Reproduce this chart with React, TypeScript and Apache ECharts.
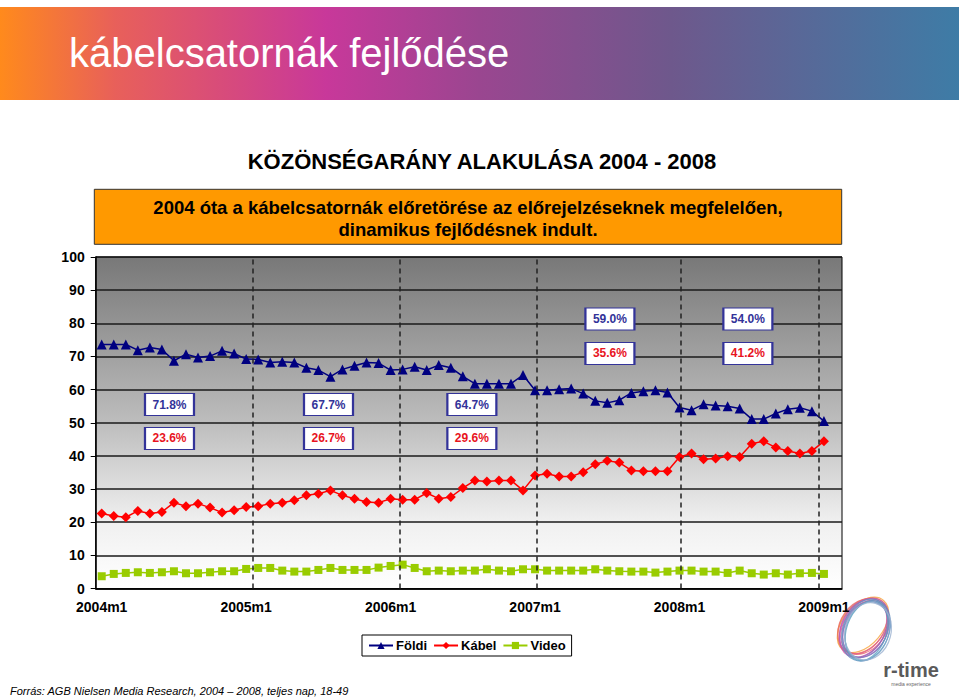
import React, { useEffect, useRef } from "react";
import * as echarts from "echarts";

const YEARS = ["2004", "2005", "2006", "2007", "2008", "2009"];
const MONTHS = [1, 2, 3, 4, 5, 6, 7, 8, 9, 10, 11, 12];
const CATEGORIES = YEARS.flatMap((y) => MONTHS.map((m) => `${y}m${m}`)).slice(0, 62);

const FOLDI = [
  73.6, 73.6, 73.6, 71.9, 72.7, 72.1, 68.7, 70.7, 69.7, 70.1, 71.7, 70.9,
  69.2, 69.1, 68.2, 68.4, 68.2, 66.6, 65.9, 63.9, 66.1, 67.2, 68.2, 68.0,
  65.9, 66.1, 66.9, 65.9, 67.4, 66.6, 64.0, 61.8, 61.8, 61.8, 61.8, 64.4,
  59.8, 59.8, 60.1, 60.3, 58.8, 56.6, 56.0, 56.8, 59.0, 59.5, 59.8, 59.1,
  54.6, 53.8, 55.6, 55.2, 55.0, 54.3, 51.1, 51.1, 52.8, 54.1, 54.5, 53.5,
  50.5,
];
const KABEL = [
  22.6, 21.9, 21.5, 23.4, 22.6, 23.1, 25.9, 24.8, 25.6, 24.4, 22.9, 23.6,
  24.6, 24.8, 25.6, 25.9, 26.6, 28.1, 28.6, 29.6, 28.1, 27.1, 26.1, 25.9,
  27.1, 26.8, 26.8, 28.8, 27.1, 27.6, 30.3, 32.6, 32.3, 32.6, 32.6, 29.6,
  34.1, 34.6, 33.8, 33.8, 35.1, 37.5, 38.5, 38.0, 35.6, 35.4, 35.4, 35.4,
  39.7, 40.7, 39.0, 39.2, 39.9, 39.7, 43.7, 44.4, 42.5, 41.5, 40.7, 41.5,
  44.4,
];
const VIDEO = [
  3.7, 4.4, 4.7, 4.9, 4.7, 4.9, 5.2, 4.6, 4.6, 4.9, 5.2, 5.2,
  5.9, 6.2, 6.2, 5.4, 5.1, 5.1, 5.6, 6.2, 5.6, 5.6, 5.6, 6.3,
  6.8, 7.2, 6.2, 5.2, 5.4, 5.2, 5.4, 5.4, 5.8, 5.4, 5.2, 5.8,
  5.8, 5.4, 5.4, 5.4, 5.4, 5.8, 5.4, 5.2, 5.1, 5.1, 4.8, 5.1,
  5.4, 5.4, 5.1, 5.1, 4.7, 5.4, 4.6, 4.2, 4.6, 4.2, 4.6, 4.7,
  4.4,
];

// yearly averages shown in boxes
const FOLDI_AVG = ["71.8%", "67.7%", "64.7%", "59.0%", "54.0%"];
const KABEL_AVG = ["23.6%", "26.7%", "29.6%", "35.6%", "41.2%"];
const AVG_X = [6.13, 19.34, 31.25, 42.72, 54.18];
const FOLDI_AVG_Y = [55.5, 55.5, 55.5, 81.3, 81.3];
const KABEL_AVG_Y = [45.25, 45.25, 45.25, 70.9, 70.9];
const DIVIDERS = [13.07, 25.28, 36.65, 48.61, 60.07];

const NAVY = "#000080";
const RED = "#ff0000";
const GREEN = "#99cc00";
const FONT = "Arial, 'Liberation Sans', sans-serif";

function logoElements() {
  const colors = [
    "#f6a33c", "#f08a4a", "#e96a6a", "#e0588e", "#cf55a8", "#b45cb4",
    "#9468b8", "#7a7cc0", "#6290c0", "#5aa0c0", "#74a8c8", "#9ab0d0",
  ];
  return colors.map((c, i) => ({
    type: "ellipse",
    x: 865,
    y: 629,
    rotation: -0.7 + i * 0.04,
    shape: { cx: (i - 6) * 0.7, cy: (i - 6) * 0.3, rx: 20 + (i % 3) * 1.5, ry: 32 - (i % 4) },
    style: { fill: "none", stroke: c, lineWidth: 1.2, opacity: 0.8 },
    silent: true,
  }));
}

export default function App() {
  const ref = useRef<HTMLDivElement>(null);
  useEffect(() => {
    if (!ref.current) return;
    const chart = echarts.init(ref.current, undefined, { renderer: "svg" });
    const markData = [
      ...FOLDI_AVG.map((t, i) => ({
        name: t,
        coord: [AVG_X[i], FOLDI_AVG_Y[i]],
        label: { color: "#333399" },
      })),
      ...KABEL_AVG.map((t, i) => ({
        name: t,
        coord: [AVG_X[i], KABEL_AVG_Y[i]],
        label: { color: "#e8141e" },
      })),
    ];
    chart.setOption({
      animation: false,
      backgroundColor: "#ffffff",
      textStyle: { fontFamily: FONT },
      title: {
        text: "KÖZÖNSÉGARÁNY ALAKULÁSA 2004 - 2008",
        left: 477,
        textAlign: "center",
        top: 145,
        textStyle: { fontFamily: FONT, fontSize: 22, fontWeight: "bold", color: "#000" },
      },
      legend: {
        data: ["Földi", "Kábel", "Video"],
        left: 362,
        top: 635,
        padding: [4, 6],
        itemWidth: 24,
        itemHeight: 9,
        itemGap: 6,
        borderColor: "#000",
        borderWidth: 1,
        textStyle: { fontFamily: FONT, fontSize: 13, fontWeight: "bold", color: "#000", padding: [0, 0, 0, -2] },
      },
      grid: {
        left: 95.7,
        right: 117,
        top: 257,
        bottom: 111.5,
        show: true,
        borderColor: "#000",
        borderWidth: 1,
        backgroundColor: new echarts.graphic.LinearGradient(0, 0, 0, 1, [
          { offset: 0, color: "#787878" },
          { offset: 0.5, color: "#bdbdbd" },
          { offset: 0.8, color: "#f0f0f0" },
          { offset: 1, color: "#ffffff" },
        ]),
      },
      xAxis: [
        {
          type: "category",
          data: CATEGORIES,
          boundaryGap: true,
          axisLine: { lineStyle: { color: "#000", width: 1.5 } },
          axisTick: { interval: 0, length: 5, lineStyle: { color: "#000" } },
          axisLabel: {
            interval: (i: number) => i % 12 === 0 && i < 61,
            margin: 11,
            fontFamily: FONT,
            fontSize: 14,
            fontWeight: "bold",
            color: "#000",
          },
          splitLine: { show: false },
        },
        { type: "value", min: 0, max: 62, show: false },
      ],
      yAxis: {
        type: "value",
        min: 0,
        max: 100,
        interval: 10,
        axisLine: { show: true, lineStyle: { color: "#000", width: 1.5 } },
        axisTick: { show: true, length: 5, lineStyle: { color: "#000" } },
        axisLabel: { fontFamily: FONT, fontSize: 14, fontWeight: "bold", color: "#000", margin: 11 },
        splitLine: { lineStyle: { color: "#1a1a1a", width: 1.5 } },
      },
      series: [
        {
          name: "markers",
          type: "line",
          xAxisIndex: 1,
          yAxisIndex: 0,
          data: [],
          silent: true,
          markLine: {
            silent: true,
            symbol: ["none", "none"],
            label: { show: false },
            lineStyle: { type: [5, 4], color: "#222", width: 1.5 },
            data: DIVIDERS.map((v) => ({ xAxis: v })),
          },
          markPoint: {
            silent: true,
            symbol: "rect",
            symbolSize: [49, 22],
            itemStyle: { color: "#ffffff", borderColor: "#333399", borderWidth: 1.5 },
            label: {
              show: true,
              position: "inside",
              formatter: (p: any) => p.name,
              fontFamily: FONT,
              fontSize: 12,
              fontWeight: "bold",
            },
            data: markData,
          },
          z: 5,
        },
        {
          name: "Földi",
          type: "line",
          data: [...FOLDI, null],
          symbol: "triangle",
          symbolSize: 10,
          showAllSymbol: true,
          color: NAVY,
          lineStyle: { color: NAVY, width: 1.5 },
          itemStyle: { color: NAVY },
          z: 3,
        },
        {
          name: "Kábel",
          type: "line",
          data: [...KABEL, null],
          symbol: "diamond",
          symbolSize: 10,
          showAllSymbol: true,
          color: RED,
          lineStyle: { color: RED, width: 1.5 },
          itemStyle: { color: RED },
          z: 3,
        },
        {
          name: "Video",
          type: "line",
          data: [...VIDEO, null],
          symbol: "rect",
          symbolSize: 8,
          showAllSymbol: true,
          color: GREEN,
          lineStyle: { color: GREEN, width: 1.5 },
          itemStyle: { color: GREEN },
          z: 3,
        },
      ],
      graphic: [
        {
          type: "rect",
          shape: { x: 0, y: 7, width: 959, height: 93 },
          style: {
            fill: new echarts.graphic.LinearGradient(0, 0, 1, 0, [
              { offset: 0, color: "#ff8a1c" },
              { offset: 0.12, color: "#e8605a" },
              { offset: 0.34, color: "#c8389a" },
              { offset: 0.5, color: "#9a4690" },
              { offset: 0.7, color: "#6e588c" },
              { offset: 1, color: "#3e7ca6" },
            ]),
          },
          silent: true,
        },
        {
          type: "text",
          x: 69,
          y: 53,
          style: {
            text: "kábelcsatornák fejlődése",
            fill: "#ffffff",
            font: `40px ${FONT}`,
            textVerticalAlign: "middle",
          },
          silent: true,
        },
        {
          type: "rect",
          shape: { x: 94.3, y: 189.3, width: 747.4, height: 55 },
          style: { fill: "#ff9900", stroke: "#333", lineWidth: 1 },
          silent: true,
        },
        {
          type: "text",
          x: 468,
          y: 218,
          style: {
            text: "2004 óta a kábelcsatornák előretörése az előrejelzéseknek megfelelően,\ndinamikus fejlődésnek indult.",
            fill: "#000",
            font: `bold 18.5px ${FONT}`,
            textAlign: "center",
            textVerticalAlign: "middle",
            lineHeight: 22,
          },
          silent: true,
        },
        {
          type: "text",
          x: 10,
          y: 691,
          style: {
            text: "Forrás: AGB Nielsen Media Research, 2004 – 2008, teljes nap, 18-49",
            fill: "#000",
            font: `italic 11px 'Liberation Sans Narrow', Arial, sans-serif`,
            textVerticalAlign: "middle",
          },
          silent: true,
        },
        ...logoElements(),
        {
          type: "text",
          x: 911,
          y: 670,
          style: {
            text: "r-time",
            fill: "#5a5a5a",
            font: `bold 20px 'Liberation Sans Narrow', Arial, sans-serif`,
            textAlign: "center",
            textVerticalAlign: "middle",
          },
          silent: true,
        },
        {
          type: "text",
          x: 911,
          y: 684,
          style: {
            text: "media experience",
            fill: "#666",
            font: `5px Arial, sans-serif`,
            textAlign: "center",
            textVerticalAlign: "middle",
          },
          silent: true,
        },
      ],
    });
    return () => chart.dispose();
  }, []);
  return (
    <div
      ref={ref}
      style={{ position: "fixed", left: 0, top: 0, width: 959, height: 700, background: "#fff" }}
    />
  );
}
